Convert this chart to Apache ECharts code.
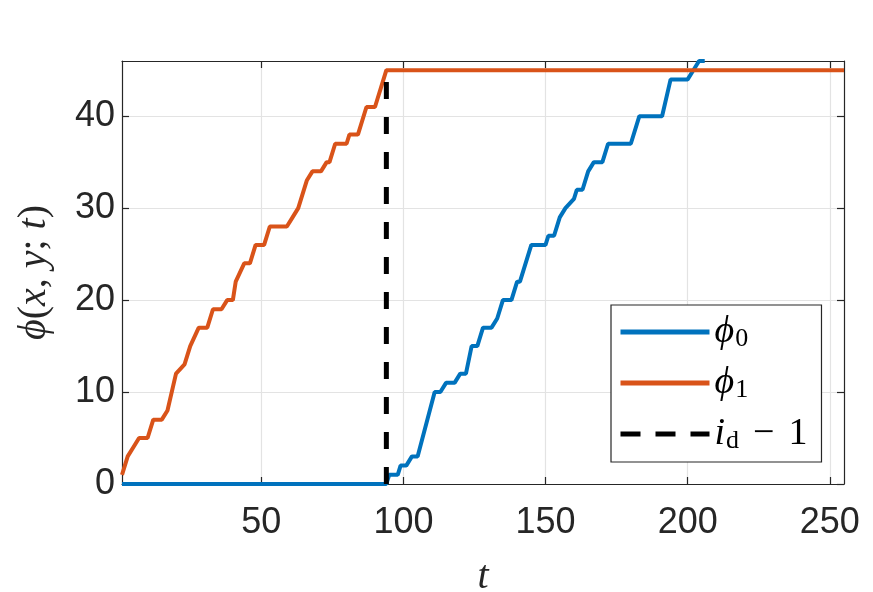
<!DOCTYPE html>
<html>
<head>
<meta charset="utf-8">
<script src="https://cdn.jsdelivr.net/npm/echarts@6/dist/echarts.min.js"></script>
<style>
html,body{margin:0;padding:0;background:#fff;}
#chart{width:873px;height:592px;}
</style>
</head>
<body>
<div id="chart"></div>
<script>
// ---- data ----
var xTicks = [50, 100, 150, 200, 250];
var yTicks = [0, 10, 20, 30, 40];
var tBlue = [1, 94, 95, 98, 99, 101, 103, 105, 111, 113, 115, 118, 120, 122, 124, 126, 128, 131, 133, 135, 138, 140, 141, 145, 150, 151, 153, 155, 157, 160, 161, 163, 165, 167, 170, 172, 180, 183, 191, 194, 200, 202, 204, 206];
var vBlue = [0, 0, 1, 1, 2, 2, 3, 3, 10, 10, 11, 11, 12, 12, 15, 15, 17, 17, 18, 20, 20, 22, 22, 26, 26, 27, 27, 29, 30, 31, 32, 32, 34, 35, 35, 37, 37, 40, 40, 44, 44, 45, 46, 46];
var tOrange = [1, 3, 5, 7, 10, 12, 15, 17, 20, 23, 25, 28, 31, 33, 36, 38, 40, 41, 44, 46, 48, 51, 53, 59, 61, 63, 66, 68, 71, 73, 74, 76, 80, 81, 84, 87, 90, 91, 92, 94, 255];
var vOrange = [1, 3, 4, 5, 5, 7, 7, 8, 12, 13, 15, 17, 17, 19, 19, 20, 20, 22, 24, 24, 26, 26, 28, 28, 29, 30, 33, 34, 34, 35, 35, 37, 37, 38, 38, 41, 41, 42, 43, 45, 45];
var tDash = [94, 94];
var vDash = [0, 45];
var seriesNames = ['phi0', 'phi1', 'id'];

function pairs(t, v) { return t.map(function (x, i) { return [x, v[i]]; }); }

var axisColor = '#262626';
var gridColor = '#e3e3e3';
var mathFont = 'Liberation Serif';
var PHI = '\u03D5';

var chart = echarts.init(document.getElementById('chart'), null, {renderer: 'canvas'});

var baseX = {
  type: 'value', min: 1, max: 255,
  axisLine: {show: true, onZero: false, lineStyle: {color: axisColor, width: 1.2}},
  axisTick: {show: true, inside: true, length: 7, customValues: xTicks, lineStyle: {color: axisColor, width: 1.2}},
  axisLabel: {show: false},
  splitLine: {show: false}
};
var baseY = {
  type: 'value', min: 0, max: 46,
  axisLine: {show: true, onZero: false, lineStyle: {color: axisColor, width: 1.2}},
  axisTick: {show: true, inside: true, length: 7, customValues: yTicks, lineStyle: {color: axisColor, width: 1.2}},
  axisLabel: {show: false},
  splitLine: {show: false}
};

var option = {
  backgroundColor: '#fff',
  animation: false,
  grid: {left: 122, top: 61, right: 29, bottom: 108, containLabel: false, outerBoundsMode: 'none'},
  xAxis: [
    Object.assign({}, baseX, {
      position: 'bottom',
      axisLabel: {show: true, customValues: xTicks, margin: 21, fontSize: 36, color: axisColor, fontFamily: 'Liberation Sans'},
      splitLine: {show: true, customValues: xTicks, lineStyle: {color: gridColor, width: 1.2}},
      name: 't', nameLocation: 'middle', nameGap: 73,
      nameTextStyle: {fontFamily: mathFont, fontStyle: 'italic', fontSize: 40, color: axisColor}
    }),
    Object.assign({}, baseX, {position: 'top'})
  ],
  yAxis: [
    Object.assign({}, baseY, {
      position: 'left',
      axisLabel: {show: true, customValues: yTicks, margin: 7, fontSize: 36, color: axisColor, fontFamily: 'Liberation Sans'},
      splitLine: {show: true, customValues: yTicks, lineStyle: {color: gridColor, width: 1.2}},
      name: '{i|' + PHI + '}{n|(}{i|x}{n|, }{i|y}{n|; }{i|t}{n|)}', nameLocation: 'middle', nameGap: 68, nameRotate: 90,
      nameTextStyle: {
        color: axisColor,
        rich: {
          i: {fontFamily: mathFont, fontStyle: 'italic', fontSize: 40, color: axisColor},
          n: {fontFamily: mathFont, fontSize: 40, color: axisColor}
        }
      }
    }),
    Object.assign({}, baseY, {position: 'right'})
  ],
  legend: {
    orient: 'vertical',
    left: 611, top: 305,
    padding: [5, 14, 8, 7],
    itemWidth: 89, itemHeight: 5, itemGap: 9,
    backgroundColor: '#fff',
    borderColor: axisColor, borderWidth: 1.2, borderRadius: 0,
    itemStyle: {opacity: 0},
    lineStyle: {width: 5},
    data: [
      {name: 'phi0'},
      {name: 'phi1'},
      {name: 'id', lineStyle: {type: [20, 15], width: 5, cap: 'butt'}}
    ],
    formatter: function (name) {
      if (name === 'phi0') return '{m|' + PHI + '}{s|0}';
      if (name === 'phi1') return '{m|' + PHI + '}{s|1}';
      return '{m|i}{s|d}{op|\u2212}{n|1}';
    },
    textStyle: {
      color: '#000',
      rich: {
        m: {fontFamily: mathFont, fontStyle: 'italic', fontSize: 38, lineHeight: 40, color: '#000'},
        n: {fontFamily: mathFont, fontSize: 38, lineHeight: 40, color: '#000'},
        op: {fontFamily: mathFont, fontSize: 38, lineHeight: 40, padding: [0, 14, 0, 14], color: '#000'},
        s: {fontFamily: mathFont, fontSize: 26, lineHeight: 40, verticalAlign: 'bottom', padding: [16, 0, 0, 1], color: '#000'}
      }
    }
  },
  series: [
    {
      name: seriesNames[0], type: 'line', xAxisIndex: 0, yAxisIndex: 0,
      data: pairs(tBlue, vBlue), symbol: 'none', clip: true,
      lineStyle: {color: '#0072BD', width: 4}, itemStyle: {color: '#0072BD'}
    },
    {
      name: seriesNames[1], type: 'line', xAxisIndex: 0, yAxisIndex: 0,
      data: pairs(tOrange, vOrange), symbol: 'none', clip: true,
      lineStyle: {color: '#D95319', width: 4}, itemStyle: {color: '#D95319'}
    },
    {
      name: seriesNames[2], type: 'line', xAxisIndex: 0, yAxisIndex: 0,
      data: pairs(tDash, vDash), symbol: 'none', clip: true,
      lineStyle: {color: '#000', width: 5, type: [17, 18], cap: 'butt'}, itemStyle: {color: '#000'}
    }
  ]
};
chart.setOption(option);
</script>
</body>
</html>
